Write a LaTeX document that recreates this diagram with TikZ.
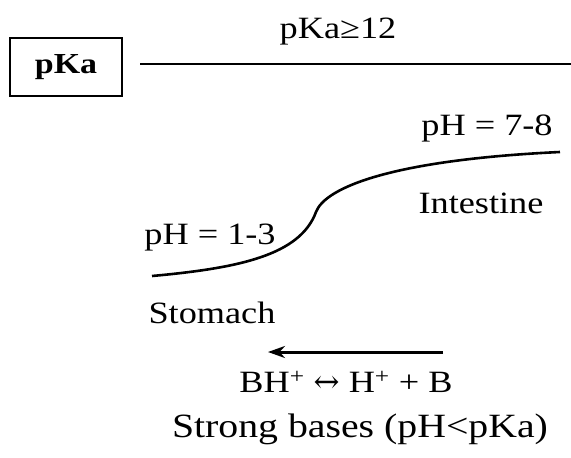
\documentclass[tikz,border=0pt]{standalone}
\usepackage{graphicx}
\usepackage{fontspec}
\setmainfont[FakeStretch=1.17]{Liberation Serif}
\newfontfamily\arrowfont{DejaVu Serif}
\usetikzlibrary{arrows.meta}
\tikzset{
  lbl/.style={font=\fontsize{31}{36}\selectfont, inner sep=0pt},
  boxlbl/.style={draw, line width=1.8pt, font=\fontsize{29}{34}\selectfont\bfseries, minimum width=112pt, minimum height=58pt, inner sep=0pt},
  curve/.style={line width=2.6pt},
  reaction/.style={line width=3pt, -{Stealth[length=17pt,width=12pt]}}
}
\begin{document}
\begin{tikzpicture}[x=1pt,y=-1pt]
\useasboundingbox (0,0) rectangle (571,458);
\node[boxlbl] (box) at (66,67) {pKa};
\coordinate (topL) at (140,64);
\coordinate (topR) at (571,64);
\draw[curve] (topL) -- (topR);
\node[lbl] (pka12) at (338,32) {pKa≥12};
\node[lbl] (ph78) at (487,128) {pH = 7-8};
\node[lbl] (intest) at (481,203) {Intestine};
\node[lbl] (ph13) at (210,238) {pH = 1-3};
\node[lbl] (stom) at (212,313) {Stomach};
\coordinate (cS) at (152,276);
\coordinate (cM) at (316,212);
\coordinate (cE) at (560,152);
\draw[curve] (cS) .. controls (240,268) and (300,255) .. (cM) .. controls (325,188) and (390,160) .. (cE);
\coordinate (arrR) at (443,352);
\coordinate (arrL) at (268,352);
\draw[reaction] (arrR) -- (arrL);
\node[lbl] (eq) at (346,382) {BH\textsuperscript{+} {\arrowfont ↔} H\textsuperscript{+} + B};
\node[lbl, font=\fontsize{34}{40}\selectfont] (strong) at (360,429) {Strong bases (pH<pKa)};
\end{tikzpicture}
\end{document}
